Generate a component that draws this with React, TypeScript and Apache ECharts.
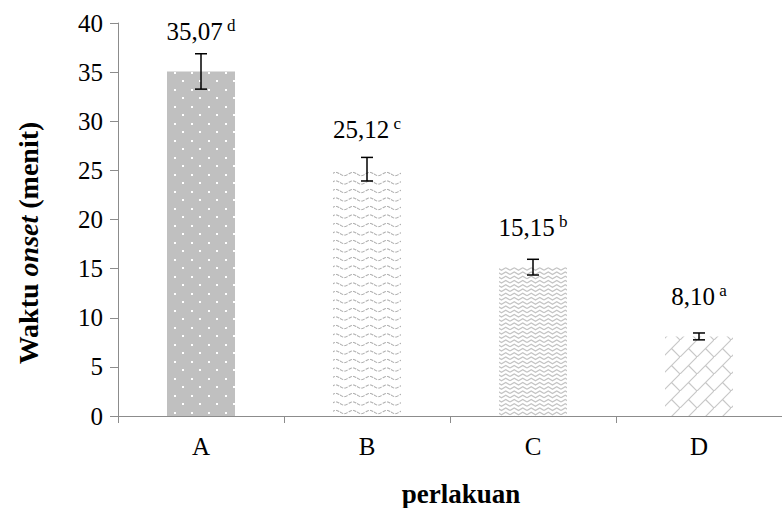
import React, { useEffect, useRef } from "react";
import * as echarts from "echarts";

const categories = ["A", "B", "C", "D"];
const values = [35.07, 25.12, 15.15, 8.1];
const errors = [1.8, 1.2, 0.8, 0.35];
const letters = ["d", "c", "b", "a"];
const yTicks = { min: 0, max: 40, interval: 5 };

const FONT = "'Times New Roman', 'Liberation Serif', serif";

function makeTile(draw: (ctx: CanvasRenderingContext2D) => void, size = 17) {
  const c = document.createElement("canvas");
  c.width = size;
  c.height = size;
  const ctx = c.getContext("2d")!;
  draw(ctx);
  return { image: c.toDataURL(), imageWidth: size, imageHeight: size, repeat: "repeat" };
}

function patterns() {
  const dots = makeTile((ctx) => {
    ctx.fillStyle = "#c0c0c0";
    ctx.fillRect(0, 0, 17, 17);
    ctx.fillStyle = "#ffffff";
    ctx.fillRect(4, 4, 2, 2);
    ctx.fillRect(12, 12, 2, 2);
  });
  const wave = makeTile((ctx) => {
    ctx.fillStyle = "#ffffff";
    ctx.fillRect(0, 0, 17, 17);
    ctx.strokeStyle = "#b0b0b0";
    ctx.lineWidth = 1.1;
    ctx.setLineDash([3.5, 1.2]);
    [4, 12.5].forEach((row) => {
      ctx.beginPath();
      for (let x = 0; x <= 17; x += 0.5) {
        const y = row + 1.6 * Math.sin((2 * Math.PI * x) / 17);
        if (x === 0) ctx.moveTo(x, y);
        else ctx.lineTo(x, y);
      }
      ctx.stroke();
    });
  });
  const zig = makeTile((ctx) => {
    ctx.fillStyle = "#ffffff";
    ctx.fillRect(0, 0, 17, 17);
    ctx.strokeStyle = "#c4c4c4";
    ctx.lineWidth = 1.4;
    [0, 4.25, 8.5, 12.75, 17].forEach((b) => {
      ctx.beginPath();
      ctx.moveTo(0, b + 2.5);
      ctx.lineTo(4.25, b);
      ctx.lineTo(8.5, b + 2.5);
      ctx.lineTo(12.75, b);
      ctx.lineTo(17, b + 2.5);
      ctx.stroke();
    });
  });
  const brick = makeTile((ctx) => {
    ctx.fillStyle = "#ffffff";
    ctx.fillRect(0, 0, 17, 17);
    ctx.strokeStyle = "#c8c8c8";
    ctx.lineWidth = 1.2;
    ctx.beginPath();
    ctx.moveTo(-2, 19);
    ctx.lineTo(19, -2);
    ctx.moveTo(8.5, 8.5);
    ctx.lineTo(17, 17);
    ctx.stroke();
  });
  return [dots, wave, zig, brick];
}

export default function App() {
  const ref = useRef<HTMLDivElement>(null);
  useEffect(() => {
    const chart = echarts.init(ref.current!, null, { renderer: "svg" });
    const pats = patterns();
    const axisColor = "#8c8c8c";
    chart.setOption({
      animation: false,
      backgroundColor: "#ffffff",
      textStyle: { fontFamily: FONT },
      grid: { left: 118, right: -8, top: 23, bottom: 92 },
      xAxis: {
        type: "category",
        data: categories,
        axisLine: { lineStyle: { color: axisColor, width: 1 } },
        axisTick: { show: true, length: 7, lineStyle: { color: axisColor } },
        axisLabel: { color: "#000", fontFamily: FONT, fontSize: 25, margin: 18 },
      },
      yAxis: {
        type: "value",
        min: yTicks.min,
        max: yTicks.max,
        interval: yTicks.interval,
        splitLine: { show: false },
        axisLine: { show: true, lineStyle: { color: axisColor, width: 1 } },
        axisTick: { show: true, length: 8, lineStyle: { color: axisColor } },
        axisLabel: { color: "#000", fontFamily: FONT, fontSize: 25, margin: 15 },
      },
      graphic: [
        {
          type: "text",
          x: 28,
          y: 243,
          rotation: Math.PI / 2,
          style: {
            text: "{b|Waktu }{i|onset}{b| (menit)}",
            textAlign: "center",
            textVerticalAlign: "middle",
            rich: {
              b: { fontFamily: FONT, fontSize: 28, fontWeight: "bold", fill: "#000" },
              i: { fontFamily: FONT, fontSize: 28, fontWeight: "bold", fontStyle: "italic", fill: "#000" },
            },
          },
        },
        {
          type: "text",
          x: 461,
          y: 494,
          style: {
            text: "perlakuan",
            textAlign: "center",
            textVerticalAlign: "middle",
            fontFamily: FONT,
            fontSize: 27,
            fontWeight: "bold",
            fill: "#000",
          },
        },
      ],
      series: [
        {
          type: "bar",
          barWidth: 68,
          data: values.map((v, i) => ({ value: v, itemStyle: { color: pats[i] } })),
          label: {
            show: true,
            position: "top",
            distance: 26,
            formatter: (p: any) =>
              "{n|" + p.value.toFixed(2).replace(".", ",") + "}{s| " + letters[p.dataIndex] + "}",
            rich: {
              n: { fontFamily: FONT, fontSize: 25, color: "#000", lineHeight: 28, verticalAlign: "middle" },
              s: { fontFamily: FONT, fontSize: 17, color: "#000", lineHeight: 28, verticalAlign: "top" },
            },
          },
        },
        {
          type: "custom",
          data: values.map((v, i) => [i, v - errors[i], v + errors[i]]),
          renderItem: (params: any, api: any) => {
            const i = api.value(0);
            const lo = api.coord([i, api.value(1)]);
            const hi = api.coord([i, api.value(2)]);
            const hw = 6;
            const st = { stroke: "#000", lineWidth: 1.5 };
            return {
              type: "group",
              children: [
                { type: "line", shape: { x1: lo[0], y1: lo[1], x2: hi[0], y2: hi[1] }, style: st },
                { type: "line", shape: { x1: hi[0] - hw, y1: hi[1], x2: hi[0] + hw, y2: hi[1] }, style: st },
                { type: "line", shape: { x1: lo[0] - hw, y1: lo[1], x2: lo[0] + hw, y2: lo[1] }, style: st },
              ],
            };
          },
          z: 5,
        },
      ],
    });
    return () => chart.dispose();
  }, []);
  return (
    <div
      ref={ref}
      style={{ position: "fixed", left: 0, top: 0, width: 782, height: 508, background: "#fff" }}
    />
  );
}
